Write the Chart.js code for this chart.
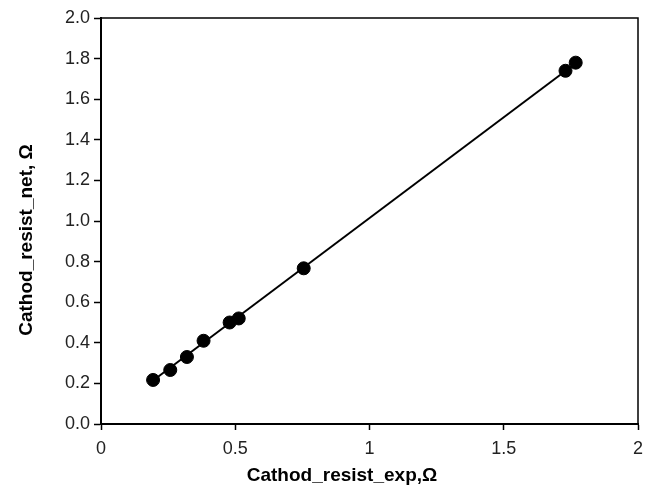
<!DOCTYPE html>
<html>
<head>
<meta charset="utf-8">
<script src="https://cdn.jsdelivr.net/npm/chart.js@4.4.0/dist/chart.umd.min.js"></script>
<style>
  html, body { margin: 0; padding: 0; background: #fff; }
  canvas { display: block; }
</style>
</head>
<body>
<canvas id="myChart" width="653" height="495"></canvas>
<script>
// measured vs. net model cathode resistance
const cathod_exp = [0.194, 0.258, 0.32, 0.382, 0.479, 0.513, 0.755, 1.73, 1.768];
const cathod_net = [0.217, 0.266, 0.33, 0.41, 0.50, 0.52, 0.767, 1.74, 1.78];
// fitted line end points
const fit_x = [0.194, 1.768];
const fit_y = [0.214, 1.777];

const x_ticks = [0, 0.5, 1, 1.5, 2];
const y_ticks = [0, 0.2, 0.4, 0.6, 0.8, 1.0, 1.2, 1.4, 1.6, 1.8, 2.0];

const X_TITLE = 'Cathod_resist_exp,\u03A9';
const Y_TITLE = 'Cathod_resist_net, \u03A9';

const FONT = "'Liberation Sans', Arial, sans-serif";

function toPoints(xs, ys) {
    return xs.map((x, i) => ({ x: x, y: ys[i] }));
}

// frame around the plot + axis titles
const framePlugin = {
    id: 'frame',
    afterDraw(chart) {
        let ctx = chart.ctx;
        let a = chart.chartArea;
        ctx.save();
        ctx.strokeStyle = '#000';
        ctx.lineWidth = 1.5;
        ctx.beginPath();
        ctx.moveTo(a.left, a.top);
        ctx.lineTo(a.right, a.top);
        ctx.lineTo(a.right, a.bottom);
        ctx.stroke();

        ctx.fillStyle = '#000';
        ctx.font = 'bold 19px ' + FONT;
        ctx.textAlign = 'center';
        ctx.textBaseline = 'middle';
        ctx.fillText(X_TITLE, 342, 476);

        ctx.translate(27, 240);
        ctx.rotate(-Math.PI / 2);
        ctx.fillText(Y_TITLE, 0, 0);
        ctx.restore();
    }
};

let ctx = document.getElementById('myChart').getContext('2d');
let my_chart = new Chart(ctx, {
    type: 'scatter',
    data: {
        datasets: [{
            label: 'points',
            data: toPoints(cathod_exp, cathod_net),
            backgroundColor: '#000',
            borderColor: '#000',
            pointRadius: 6.5,
            pointHoverRadius: 6.5,
            showLine: false,
            order: 1
        },
        {
            label: 'fit',
            data: toPoints(fit_x, fit_y),
            borderColor: '#000',
            borderWidth: 2,
            pointRadius: 0,
            showLine: true,
            fill: false,
            order: 2
        }]
    },
    options: {
        responsive: false,
        animation: false,
        events: [],
        layout: {
            padding: { left: 0, top: 18, right: 15, bottom: 0 }
        },
        plugins: {
            legend: { display: false },
            tooltip: { enabled: false }
        },
        scales: {
            x: {
                type: 'linear',
                min: 0,
                max: 2,
                afterFit(scale) { scale.height = 71; },
                afterBuildTicks(scale) { scale.ticks = x_ticks.map(v => ({ value: v })); },
                ticks: {
                    color: '#222',
                    padding: 8,
                    font: { family: FONT, size: 18 },
                    callback: v => String(v)
                },
                grid: {
                    display: true,
                    drawOnChartArea: false,
                    drawTicks: true,
                    tickLength: 6,
                    tickColor: '#000',
                    tickWidth: 1.5
                },
                border: { display: true, color: '#000', width: 2 }
            },
            y: {
                type: 'linear',
                min: 0,
                max: 2,
                afterFit(scale) { scale.width = 101; },
                afterBuildTicks(scale) { scale.ticks = y_ticks.map(v => ({ value: v })); },
                ticks: {
                    color: '#222',
                    padding: 4,
                    font: { family: FONT, size: 18 },
                    callback: v => v.toFixed(1)
                },
                grid: {
                    display: true,
                    drawOnChartArea: false,
                    drawTicks: true,
                    tickLength: 7,
                    tickColor: '#000',
                    tickWidth: 1.5
                },
                border: { display: true, color: '#000', width: 2 }
            }
        }
    },
    plugins: [framePlugin]
});
</script>
</body>
</html>
